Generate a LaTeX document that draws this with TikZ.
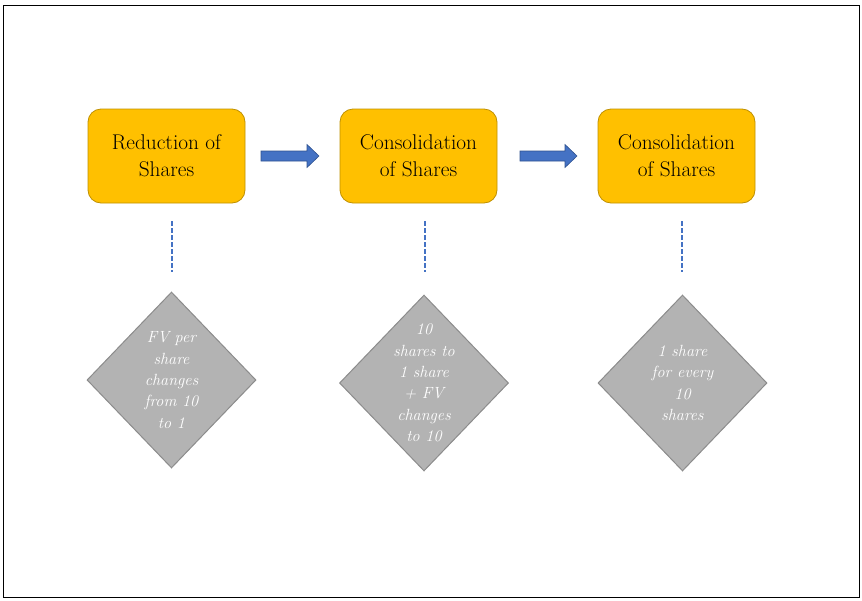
\documentclass[tikz,border=0pt]{standalone}
\usepackage{fontspec}
\usetikzlibrary{shapes.geometric}
\definecolor{boxfill}{HTML}{FFC000}
\definecolor{boxline}{HTML}{BF9000}
\definecolor{arrfill}{HTML}{4472C4}
\definecolor{arrline}{HTML}{2F528F}
\definecolor{dfill}{HTML}{B3B3B3}
\definecolor{dline}{HTML}{8C8C8C}
\tikzset{
  stepbox/.style={draw=boxline, fill=boxfill, line width=0.8pt, rounded corners=13pt,
    minimum width=157pt, minimum height=94pt, align=center, inner sep=0pt,
    font=\rmfamily\fontsize{21.3}{27}\selectfont},
  infodia/.style={draw=dline, fill=dfill, line width=1pt, diamond, aspect=0.96,
    minimum width=169pt, minimum height=176pt, inner sep=-12pt, align=center,
    text=white, font=\rmfamily\fontsize{16.2}{21.3}\selectfont\itshape},
  blockarrow/.style={draw=arrline, fill=arrfill, line width=0.6pt},
  dashconn/.style={draw=arrfill, line width=2pt, dash pattern=on 5pt off 2pt}
}
\begin{document}
\begin{tikzpicture}[x=1pt,y=-1pt]
\useasboundingbox (0,0) rectangle (862,600);
\draw[black, line width=1pt] (3,5) rectangle (859,597);

\node[stepbox] (b1) at (166.5,156) {Reduction of\\Shares};
\node[stepbox] (b2) at (418.5,156) {Consolidation\\of Shares};
\node[stepbox] (b3) at (676.5,156) {Consolidation\\of Shares};

\node[infodia] (d1) at (171.5,380) {FV per\\share\\changes\\from 10\\to 1};
\node[infodia] (d2) at (424,383) {10\\shares to\\1 share\\+ FV\\changes\\to 10};
\node[infodia] (d3) at (682.5,383) {1 share\\for every\\10\\shares};

\coordinate (t1) at (172,221); \coordinate (e1) at (172,272);
\coordinate (t2) at (425,221); \coordinate (e2) at (425,272);
\coordinate (t3) at (682,221); \coordinate (e3) at (682,272);
\draw[dashconn] (t1) -- (e1);
\draw[dashconn] (t2) -- (e2);
\draw[dashconn] (t3) -- (e3);

\draw[blockarrow] (261,151) -- (307,151) -- (307,144.5) -- (319,156) -- (307,167.5) -- (307,161) -- (261,161) -- cycle;
\draw[blockarrow] (520,151) -- (565,151) -- (565,144.5) -- (577,156) -- (565,167.5) -- (565,161) -- (520,161) -- cycle;
\end{tikzpicture}
\end{document}
